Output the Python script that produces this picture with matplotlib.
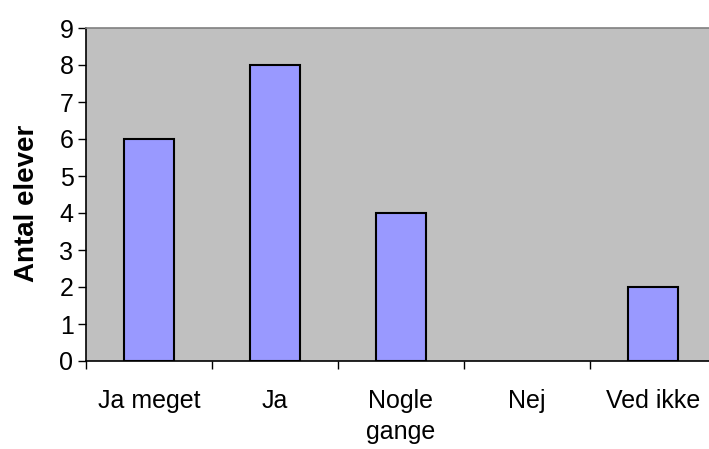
import matplotlib
matplotlib.use('Agg')
import matplotlib.pyplot as plt
import numpy as np

# --- Data ---
categories = ['Ja meget', 'Ja', 'Nogle\ngange', 'Nej', 'Ved ikke']
antal = [6, 8, 4, 0, 2]

plt.rcParams['font.family'] = ['Liberation Sans', 'DejaVu Sans']

fig = plt.figure(figsize=(7.09, 4.49), dpi=100)
# plot area runs slightly past the right edge, as in the original
ax = fig.add_axes([86 / 709, (449 - 361) / 449, 630 / 709, (361 - 28) / 449])
ax.set_facecolor('#C0C0C0')

x = np.arange(len(categories))
# empty categories get no outline (Excel draws nothing for a zero bar)
edges = ['black' if v > 0 else 'none' for v in antal]
ax.bar(x, antal, width=0.4, color='#9999FF', edgecolor=edges, linewidth=1.5, zorder=3)

ax.set_xlim(-0.5, len(categories) - 0.5)
ax.set_ylim(0, 9)
ax.set_yticks(range(0, 10))
ax.tick_params(axis='y', labelsize=18, length=6, width=1, direction='out', pad=3)

# category ticks sit between the groups, labels in the middle
ax.set_xticks(np.arange(-0.5, len(categories), 1.0))
ax.set_xticklabels([])
ax.set_xticks(x, minor=True)
ax.set_xticklabels(categories, minor=True, fontsize=18, linespacing=1.4)
ax.tick_params(axis='x', which='major', length=6, width=1, direction='out')
ax.tick_params(axis='x', which='minor', length=0, pad=20)

ax.spines['left'].set_color('black')
ax.spines['bottom'].set_color('black')
ax.spines['top'].set_color('#808080')
ax.spines['right'].set_visible(False)
for s in ax.spines.values():
    s.set_linewidth(1.2)

ax.set_ylabel('Antal elever', fontsize=20, fontweight='bold')
ax.yaxis.set_label_coords(-0.073, 0.474)

fig.savefig('out.png', dpi=100)
